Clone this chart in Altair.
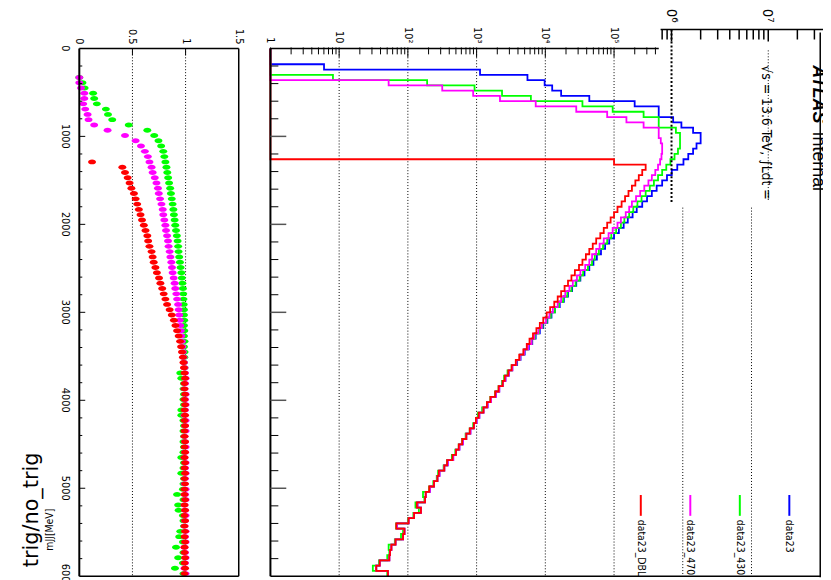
import altair as alt
import pandas as pd

W, H = 823, 572

BIN_W = 60
bin_low = [i * BIN_W for i in range(100)]

series_names = ["data23", "data23_430", "data23_470", "data23_DBL"]
series_colors = ["#0000ff", "#00ff00", "#ff00ff", "#ff0000"]

# log10 of the bin contents (0 = empty bin, drawn on the axis)
log_data23 = [0, 0, 0, 0.78, 3.05, 3.74, 3.99, 4.10, 4.23, 4.64,
              5.30, 5.65, 5.65, 5.86, 5.98, 6.15, 6.26, 6.26, 6.20, 6.15,
              6.08, 6.01, 5.92, 5.84, 5.77, 5.70, 5.62, 5.55, 5.48, 5.41,
              5.33, 5.27, 5.20, 5.14, 5.07, 5.00, 4.93, 4.87, 4.81, 4.75,
              4.70, 4.64, 4.57, 4.51, 4.45, 4.39, 4.33, 4.27, 4.21, 4.14,
              4.09, 4.03, 3.97, 3.92, 3.86, 3.81, 3.76, 3.70, 3.64, 3.59,
              3.52, 3.47, 3.42, 3.38, 3.33, 3.28, 3.21, 3.16, 3.10, 3.04,
              3.00, 2.96, 2.91, 2.85, 2.80, 2.75, 2.70, 2.66, 2.58, 2.53,
              2.46, 2.43, 2.38, 2.32, 2.26, 2.25, 2.14, 2.19, 2.09, 2.01,
              1.84, 1.95, 1.93, 1.82, 1.76, 1.74, 1.73, 1.59, 1.54, 1.71]

log_430 = [0, 0, 0, 0, 0, 0.91, 2.28, 2.97, 3.37, 3.79,
           4.54, 4.98, 5.43, 5.65, 5.65, 5.90, 5.96, 5.96, 5.96, 5.93,
           5.88, 5.82, 5.76, 5.70, 5.64, 5.58, 5.52, 5.46, 5.40, 5.34,
           5.28, 5.22, 5.15, 5.10, 5.03, 4.96, 4.90, 4.84, 4.78, 4.72,
           4.68, 4.62, 4.55, 4.50, 4.44, 4.38, 4.32, 4.26, 4.20, 4.14,
           4.08, 4.02, 3.96, 3.91, 3.85, 3.80, 3.75, 3.69, 3.63, 3.58,
           3.51, 3.45, 3.40, 3.37, 3.32, 3.27, 3.20, 3.15, 3.08, 3.02,
           2.99, 2.95, 2.90, 2.84, 2.79, 2.74, 2.69, 2.64, 2.57, 2.52,
           2.44, 2.42, 2.37, 2.31, 2.22, 2.24, 2.11, 2.16, 2.08, 2.00,
           1.83, 1.93, 1.90, 1.81, 1.72, 1.73, 1.70, 1.58, 1.49, 1.70]

log_470 = [0, 0, 0, 0, 0, 0, 1.72, 2.50, 2.95, 3.34,
           3.86, 4.45, 4.90, 5.18, 5.43, 5.65, 5.65, 5.68, 5.70, 5.70,
           5.69, 5.67, 5.64, 5.60, 5.55, 5.50, 5.44, 5.38, 5.32, 5.26,
           5.22, 5.17, 5.10, 5.05, 4.98, 4.92, 4.85, 4.79, 4.74, 4.68,
           4.64, 4.58, 4.51, 4.46, 4.40, 4.35, 4.29, 4.23, 4.18, 4.11,
           4.06, 4.01, 3.95, 3.90, 3.84, 3.80, 3.75, 3.69, 3.63, 3.58,
           3.52, 3.47, 3.42, 3.38, 3.33, 3.28, 3.21, 3.16, 3.10, 3.04,
           3.00, 2.96, 2.91, 2.85, 2.80, 2.75, 2.70, 2.66, 2.58, 2.53,
           2.46, 2.43, 2.38, 2.32, 2.26, 2.25, 2.14, 2.19, 2.09, 2.01,
           1.84, 1.95, 1.93, 1.82, 1.76, 1.74, 1.73, 1.59, 1.54, 1.71]

log_dbl = [0, 0, 0, 0, 0, 0, 0, 0, 0, 0,
           0, 0, 0, 0, 0, 0, 0, 0, 0, 0,
           0, 5.00, 5.46, 5.41, 5.36, 5.31, 5.26, 5.21, 5.16, 5.11,
           5.05, 5.00, 4.95, 4.90, 4.85, 4.80, 4.74, 4.69, 4.64, 4.59,
           4.54, 4.49, 4.43, 4.38, 4.33, 4.28, 4.23, 4.18, 4.13, 4.07,
           4.02, 3.97, 3.92, 3.87, 3.82, 3.77, 3.73, 3.68, 3.62, 3.57,
           3.51, 3.46, 3.41, 3.38, 3.32, 3.27, 3.20, 3.15, 3.10, 3.03,
           2.99, 2.96, 2.90, 2.85, 2.79, 2.74, 2.70, 2.65, 2.57, 2.53,
           2.45, 2.43, 2.38, 2.31, 2.26, 2.25, 2.13, 2.19, 2.09, 2.01,
           1.83, 1.95, 1.93, 1.82, 1.76, 1.74, 1.73, 1.59, 1.54, 1.71]

N = None
ratio_430 = [N, N, N, N, N, 0.0, 0.03, 0.05, 0.13, 0.14,
             0.165, 0.25, 0.27, 0.31, 0.465, 0.64, 0.705, 0.745, 0.77, 0.79,
             0.80, 0.81, 0.82, 0.828, 0.836, 0.845, 0.855, 0.862, 0.87, 0.878,
             0.885, 0.89, 0.897, 0.903, 0.91, 0.918, 0.925, 0.93, 0.934, 0.94,
             0.947, 0.953, 0.96, 0.965, 0.97, 0.975, 0.978, 0.98, 0.982, 0.985,
             0.985, 0.987, 0.985, 0.988, 0.985, 0.99, 0.985, 0.99, 0.988, 0.985,
             0.99, 0.95, 0.96, 0.985, 0.98, 0.985, 0.98, 0.985, 0.96, 0.96,
             0.98, 0.985, 0.98, 0.985, 0.98, 0.985, 0.98, 0.96, 0.985, 0.98,
             0.96, 0.985, 0.98, 0.975, 0.92, 0.98, 0.93, 0.935, 0.975, 0.98,
             0.985, 0.95, 0.94, 0.975, 0.91, 0.98, 0.93, 0.975, 0.90, 0.98]

ratio_470 = [N, N, N, N, N, 0.0, 0.0, 0.016, 0.047, 0.047,
             0.037, 0.056, 0.078, 0.087, 0.14, 0.266, 0.43, 0.53, 0.58, 0.617,
             0.645, 0.66, 0.68, 0.69, 0.71, 0.726, 0.74, 0.748, 0.76, 0.773,
             0.785, 0.79, 0.80, 0.81, 0.816, 0.826, 0.835, 0.84, 0.85, 0.857,
             0.866, 0.872, 0.878, 0.888, 0.897, 0.903, 0.913, 0.92, 0.93, 0.935,
             0.94, 0.945, 0.95, 0.955, 0.96, 0.965, 0.97, 0.975, 0.98, 0.985,
             0.99, 0.995, 1.0, 0.995, 0.99, 1.0, 0.995, 1.0, 0.995, 0.99,
             1.0, 0.995, 1.0, 0.99, 0.995, 1.0, 0.995, 0.99, 1.0, 0.995,
             1.0, 0.995, 0.99, 1.0, 0.995, 1.0, 0.99, 0.995, 1.0, 0.995,
             0.99, 1.0, 0.995, 1.0, 0.99, 0.995, 1.0, 0.995, 0.99, 1.0]

ratio_dbl = [N, N, N, N, N, N, N, N, N, N,
             N, N, N, N, N, N, N, N, N, N,
             N, 0.12, 0.405, 0.43, 0.455, 0.473, 0.49, 0.514, 0.53, 0.545,
             0.56, 0.576, 0.59, 0.607, 0.623, 0.64, 0.648, 0.66, 0.68, 0.69,
             0.70, 0.716, 0.73, 0.75, 0.763, 0.78, 0.794, 0.81, 0.826, 0.85,
             0.87, 0.89, 0.905, 0.92, 0.935, 0.948, 0.958, 0.966, 0.975, 0.98,
             0.985, 0.99, 0.995, 0.99, 0.99, 0.995, 0.99, 0.995, 0.99, 0.995,
             0.99, 0.995, 0.99, 0.99, 0.995, 0.99, 0.995, 0.99, 0.995, 0.99,
             0.995, 0.99, 0.995, 0.99, 0.99, 0.995, 0.99, 0.995, 0.99, 0.995,
             0.99, 0.995, 0.99, 0.995, 0.99, 0.99, 0.995, 0.99, 0.995, 0.99]

# tick values and tick labels
ratio_grid = [0.5, 1.0]
ratio_tick_vals = [0, 0.5, 1.0, 1.5]
ratio_tick_text = ["0", "0.5", "1", "1.5"]
mjj_tick_vals = [0, 1000, 2000, 3000, 4000, 5000, 6000]
mjj_tick_text = ["0", "1000", "2000", "3000", "4000", "5000", "6000"]
mjj_minor = [200, 400, 600, 800, 1200, 1400, 1600, 1800, 2200, 2400, 2600, 2800,
             3200, 3400, 3600, 3800, 4200, 4400, 4600, 4800, 5200, 5400, 5600, 5800]
mjj_major = [1000, 2000, 3000, 4000, 5000]
decades = [1, 10, 100, 1000, 10000, 100000]
decade_text = ["1", "10", "10²", "10³", "10⁴", "10⁵"]
decade_minor = [k * d for d in [1, 10, 100, 1000, 10000] for k in range(2, 10)] + [200000, 300000, 400000]
grid_full = [10, 100, 1000, 10000, 100000]
grid_low = [1e6, 1e7]
extra_major = [1e6, 1e7]
extra_text = ["10⁶", "10⁷"]
extra_minor = [8e5, 9e5] + [k * 1e6 for k in range(2, 10)] + [2e7, 3e7]

FONT = "Liberation Sans Narrow, DejaVu Sans Condensed, Liberation Sans, Arial, sans-serif"

# ---------- scales (pixel ranges inside the 823x572 view) ----------
Y = alt.Scale(domain=[0, 6000], range=[38, 571], zero=False, nice=False)
XR = alt.Scale(domain=[0, 1.5], range=[72, 233], zero=False, nice=False)
XM = alt.Scale(type="log", domain=[1, 1e8], range=[265, 820.2], nice=False)
XE = alt.Scale(type="log", domain=[10 ** 5.887, 10 ** 7.566], range=[659, 823], nice=False)
XL = alt.Scale(domain=[0, 3], range=[639, 789], zero=False, nice=False)
COLOR = alt.Color("series:N", scale=alt.Scale(domain=series_names, range=series_colors), legend=None)
DOT = dict(strokeDash=[1, 2], color="black", strokeWidth=1)


def ynone(field="mjj"):
    return alt.Y(f"{field}:Q", scale=Y, axis=None)


def tick_text(vals, texts, xscale, y, size=11, font=FONT):
    """Tick labels rotated like the reference, placed through the panel's x scale."""
    df = pd.DataFrame({"v": vals, "t": texts})
    return alt.Chart(df).mark_text(angle=90, align="right", baseline="middle", font=font,
                                   fontSize=size, color="black").encode(
        x=alt.X("v:Q", scale=xscale, axis=None), y=alt.value(y), text="t:N")


# ---------- ratio panel ----------
frame_r = pd.DataFrame({"r1": [0, 1.5, 0, 0], "r2": [0, 1.5, 1.5, 1.5],
                        "mjj": [0, 0, 0, 6000], "m2": [6000, 6000, 0, 6000],
                        "w": [2.0, 1.5, 1.5, 1.5]})
ratio_frame = alt.Chart(frame_r).mark_rule(color="black").encode(
    x=alt.X("r1:Q", scale=XR, axis=None), x2="r2:Q", y=ynone(), y2="m2:Q",
    strokeWidth=alt.StrokeWidth("w:Q", scale=None))
ratio_gridl = alt.Chart(pd.DataFrame({"r": ratio_grid, "mjj": [0, 0], "m2": [6000, 6000]})).mark_rule(**DOT).encode(
    x=alt.X("r:Q", scale=XR, axis=None), y=ynone(), y2="m2:Q")
ratio_topticks = alt.Chart(pd.DataFrame({"r": ratio_grid})).mark_rule(color="black", strokeWidth=1).encode(
    x=alt.X("r:Q", scale=XR, axis=None), y=alt.value(38), y2=alt.value(45))
ratio_tmin = alt.Chart(pd.DataFrame({"mjj": mjj_minor})).mark_rule(color="black").encode(
    y=ynone(), x=alt.value(72), x2=alt.value(75))
ratio_tmaj = alt.Chart(pd.DataFrame({"mjj": mjj_major})).mark_rule(color="black").encode(
    y=ynone(), x=alt.value(72), x2=alt.value(78))
ratio_xlab = tick_text(ratio_tick_vals, ratio_tick_text, XR, 34)
mjj_lab = alt.Chart(pd.DataFrame({"mjj": mjj_tick_vals, "t": mjj_tick_text})).mark_text(
    angle=90, align="center", baseline="top", font=FONT, fontSize=11, color="black").encode(
    y=ynone(), x=alt.value(64), text="t:N")

rat_rows = []
for name, vals in [("data23_430", ratio_430), ("data23_470", ratio_470), ("data23_DBL", ratio_dbl)]:
    for i, v in enumerate(vals):
        if v is not None:
            rat_rows.append({"series": name, "ratio": v, "mjj": bin_low[i] + BIN_W / 2})
ELLIPSE = "M -1 0 A 1 0.62 0 1 0 1 0 A 1 0.62 0 1 0 -1 0 Z"
ratio_pts = alt.Chart(pd.DataFrame(rat_rows)).mark_point(
    filled=True, shape=ELLIPSE, size=64, opacity=1, strokeWidth=0).encode(
    x=alt.X("ratio:Q", scale=XR, axis=None), y=ynone(), color=COLOR)

ratio_layer = alt.layer(ratio_gridl, ratio_pts, ratio_frame, ratio_topticks, ratio_tmin,
                        ratio_tmaj, ratio_xlab, mjj_lab)

# ---------- main panel ----------
def step_frame(name, logs):
    rows = []
    for i, lg in enumerate(logs):
        c = 10 ** lg
        rows.append({"series": name, "cnt": c, "mjj": bin_low[i], "o": 2 * i})
        rows.append({"series": name, "cnt": c, "mjj": bin_low[i] + BIN_W, "o": 2 * i + 1})
    return pd.DataFrame(rows)


def hist(name, logs):
    return alt.Chart(step_frame(name, logs)).mark_line(strokeWidth=1.8, interpolate="linear").encode(
        x=alt.X("cnt:Q", scale=XM, axis=None), y=ynone(), order="o:Q", color=COLOR)


main_grid_full = alt.Chart(pd.DataFrame({"v": grid_full, "mjj": [0] * 5, "m2": [6000] * 5})).mark_rule(**DOT).encode(
    x=alt.X("v:Q", scale=XM, axis=None), y=ynone(), y2="m2:Q")
main_grid_low = alt.Chart(pd.DataFrame({"v": grid_low, "mjj": [1810, 1810], "m2": [6000, 6000]})).mark_rule(**DOT).encode(
    x=alt.X("v:Q", scale=XM, axis=None), y=ynone(), y2="m2:Q")
frame_m = pd.DataFrame({"v1": [1, 1, 1], "v2": [1, 1e8, 4.47e5], "mjj": [0, 6000, 0],
                        "m2": [6000, 6000, 0], "w": [2.0, 1.5, 1.5]})
main_frame = alt.Chart(frame_m).mark_rule(color="black").encode(
    x=alt.X("v1:Q", scale=XM, axis=None), x2="v2:Q", y=ynone(), y2="m2:Q",
    strokeWidth=alt.StrokeWidth("w:Q", scale=None))
main_right = alt.Chart(pd.DataFrame({"v": [1e8]})).mark_rule(color="black", strokeWidth=1.5).encode(
    x=alt.X("v:Q", scale=XM, axis=None), y=alt.value(22), y2=alt.value(572))
main_top_major = alt.Chart(pd.DataFrame({"v": decades})).mark_rule(color="black", strokeWidth=1).encode(
    x=alt.X("v:Q", scale=XM, axis=None), y=alt.value(37), y2=alt.value(47))
main_top_minor = alt.Chart(pd.DataFrame({"v": decade_minor})).mark_rule(color="black", strokeWidth=1).encode(
    x=alt.X("v:Q", scale=XM, axis=None), y=alt.value(37), y2=alt.value(44))
main_tmin = alt.Chart(pd.DataFrame({"mjj": mjj_minor})).mark_rule(color="black").encode(
    y=ynone(), x=alt.value(265), x2=alt.value(273))
main_tmaj = alt.Chart(pd.DataFrame({"mjj": mjj_major})).mark_rule(color="#555555", strokeWidth=1.5).encode(
    y=ynone(), x=alt.value(265), x2=alt.value(281))
main_xlab = tick_text(decades, decade_text, XM, 33)

main_layer = alt.layer(
    main_grid_full, main_grid_low,
    hist("data23", log_data23), hist("data23_430", log_430),
    hist("data23_470", log_470), hist("data23_DBL", log_dbl),
    main_frame, main_right, main_top_major, main_top_minor, main_tmin, main_tmaj, main_xlab)

# ---------- extra upper log axis ----------
extra_line = alt.Chart(pd.DataFrame({"a": [10 ** 5.887], "b": [10 ** 7.566]})).mark_rule(
    color="black", strokeWidth=1.5).encode(
    x=alt.X("a:Q", scale=XE, axis=None), x2="b:Q", y=alt.value(19))
extra_maj = alt.Chart(pd.DataFrame({"v": extra_major})).mark_rule(color="black", strokeWidth=1.5).encode(
    x=alt.X("v:Q", scale=XE, axis=None), y=alt.value(19), y2=alt.value(31))
extra_min = alt.Chart(pd.DataFrame({"v": extra_minor})).mark_rule(color="black", strokeWidth=1.5).encode(
    x=alt.X("v:Q", scale=XE, axis=None), y=alt.value(19), y2=alt.value(29))
extra_g6 = alt.Chart(pd.DataFrame({"v": [1e6]})).mark_rule(strokeDash=[2, 2], color="black", strokeWidth=2).encode(
    x=alt.X("v:Q", scale=XE, axis=None), y=alt.value(19), y2=alt.value(195))
extra_g7 = alt.Chart(pd.DataFrame({"v": [1e7]})).mark_rule(**DOT).encode(
    x=alt.X("v:Q", scale=XE, axis=None), y=alt.value(40), y2=alt.value(192))
extra_lab = tick_text(extra_major, extra_text, XE, 12, size=15)
extra_layer = alt.layer(extra_line, extra_maj, extra_min, extra_g6, extra_g7, extra_lab)

# ---------- legend ----------
leg = pd.DataFrame({"i": [0, 1, 2, 3],
                    "series": ["data23_DBL", "data23_470", "data23_430", "data23"]})
leg_lines = alt.Chart(leg).mark_rule(strokeWidth=2).encode(
    x=alt.X("i:Q", scale=XL, axis=None), y=alt.value(489), y2=alt.value(510), color=COLOR)
leg_text = alt.Chart(leg).mark_text(angle=90, align="left", baseline="middle", font=FONT,
                                    fontSize=10.5, color="black").encode(
    x=alt.X("i:Q", scale=XL, axis=None), y=alt.value(514), text="series:N")
legend_layer = alt.layer(leg_lines, leg_text)

# ---------- texts ----------
def label(txt, x, y, angle, size, font=FONT, weight="normal", style="normal", align="left"):
    return alt.Chart(pd.DataFrame({"t": [txt]})).mark_text(
        angle=angle, align=align, baseline="middle", font=font, fontSize=size,
        fontWeight=weight, fontStyle=style, color="black").encode(
        x=alt.value(x), y=alt.value(y), text="t:N")


texts = alt.layer(
    label("trig/no_trig", 24, 504, 270, 21, font="DejaVu Sans", align="center"),
    label("mJJ[MeV]", 42, 524, 270, 10.5, align="center"),
    label("√s = 13.6 TeV, ∫Ldt =", 765, 55, 90, 14),
    label("ATLAS", 818, 55, 90, 18, font="Liberation Sans", weight="bold", style="italic"),
    label("Internal", 818, 122, 90, 18, font="Liberation Sans"),
)

chart = alt.layer(ratio_layer, main_layer, extra_layer, legend_layer, texts).resolve_scale(
    x="independent").properties(
    width=W, height=H, autosize=alt.AutoSizeParams(type="none"), padding=0,
    background="white").configure_view(stroke=None)

chart.save("out.html", embed_options={"renderer": "svg", "actions": False})
